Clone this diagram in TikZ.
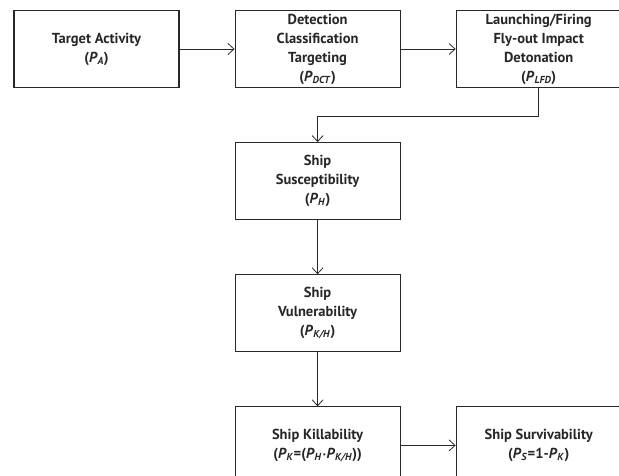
\documentclass[tikz,border=0pt]{standalone}
\usepackage{amsmath}
\usepackage{amssymb}
\usepackage{fontspec}
\setmainfont{PT Sans}
\usetikzlibrary{positioning,arrows.meta}
\definecolor{boxline}{RGB}{40,40,40}
\newcommand{\prob}[1]{\textit{P}\textsubscript{\textit{#1}}}

\begin{document}
\begin{tikzpicture}[node distance=54pt and 55pt,
    stage/.style={draw=boxline, line width=1.1pt, minimum width=165pt, minimum height=77pt,
      align=center, font=\fontsize{14.5}{19}\selectfont\bfseries, text=black!85},
    flow/.style={draw=boxline, line width=0.8pt, -{Straight Barb[length=6pt,width=11pt]}}]
        \clip (0pt,0pt) rectangle (619pt,-476pt);
        \node[stage] (A) at (96.5pt,-49pt) {Target Activity\\(\prob{A})};
        \node[stage] (B) [right=of A] {Detection\\Classification\\Targeting\\(\prob{DCT})};
        \node[stage] (C) [right=of B] {Launching/Firing\\Fly-out Impact\\Detonation\\(\prob{LFD})};
        \node[stage] (D) [below=of B] {Ship\\Susceptibility\\(\prob{H})};
        \node[stage] (E) [below=of D] {Ship\\Vulnerability\\(\prob{K/H})};
        \node[stage] (F) [below=of E] {Ship Killability\\(\prob{K}=(\prob{H}$\boldsymbol{\cdot}$\prob{K/H}))};
        \node[stage] (G) [right=of F] {Ship Survivability\\(\prob{S}=1-\prob{K})};
        \draw[flow] (A) -- (B);
        \draw[flow] (B) -- (C);
        \draw[flow] (C.south) -- ++(0,-28pt) -| (D.north);
        \draw[flow] (D) -- (E);
        \draw[flow] (E) -- (F);
        \draw[flow] (F) -- (G);
  \end{tikzpicture}
\end{document}
